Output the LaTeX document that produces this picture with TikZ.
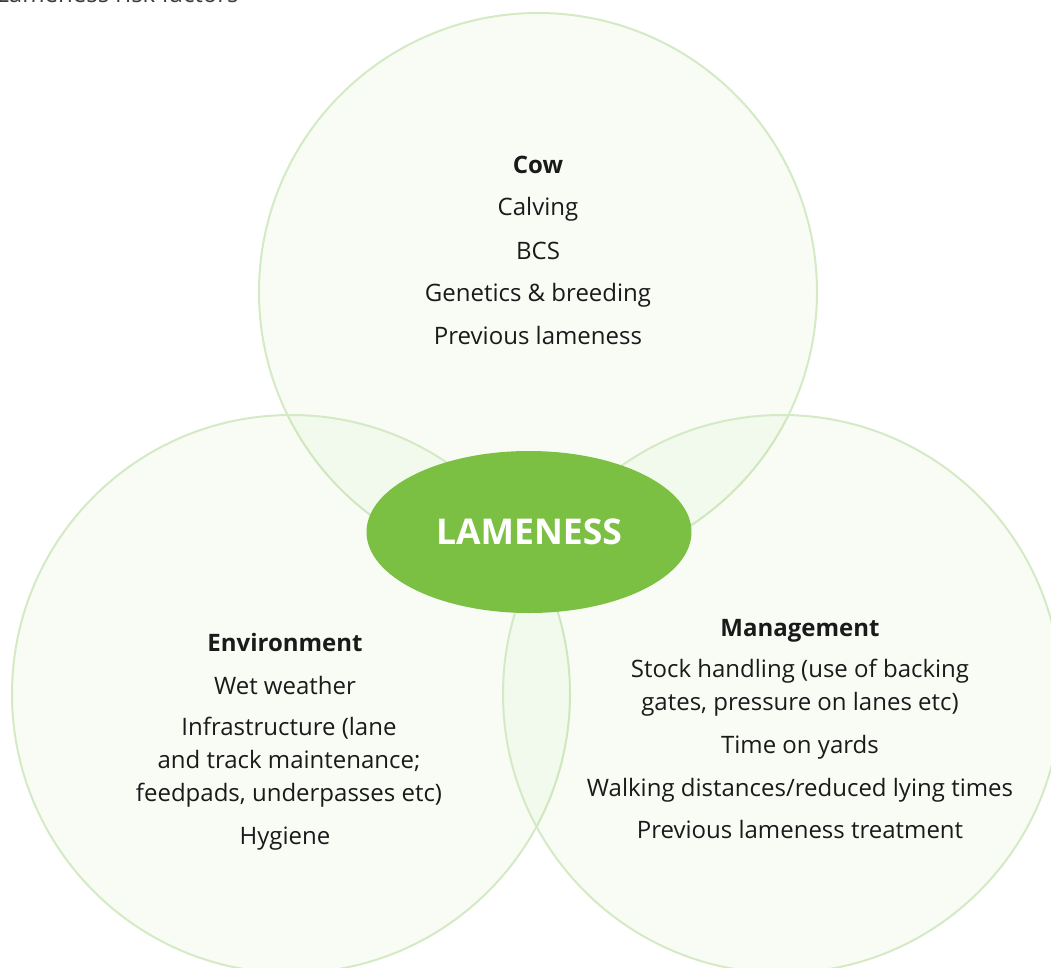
\documentclass[tikz,border=0pt]{standalone}
\usepackage{fontspec}
\setmainfont{Open Sans}
\usetikzlibrary{positioning,shapes.geometric}
\definecolor{lamegreen}{RGB}{123,192,67}
\definecolor{ringgreen}{RGB}{212,234,196}
\definecolor{inktext}{RGB}{26,26,26}

\tikzset{
  factor/.style={draw=ringgreen, line width=2pt, fill=lamegreen, fill opacity=0.05},
  head/.style={font=\fontsize{24}{26}\selectfont\bfseries, text=inktext, text height=17pt, text depth=5pt},
  item/.style={font=\fontsize{24}{33}\selectfont, text=inktext, text height=17pt, text depth=5pt},
  block/.style={font=\fontsize{24}{33}\selectfont, text=inktext, align=center},
}

\begin{document}
\begin{tikzpicture}[x=1pt,y=-1pt]
\useasboundingbox (0,0) rectangle (1051,968);
% the three factor circles
\filldraw[factor] (538,292) circle [radius=279];
\filldraw[factor] (291,694) circle [radius=279];
\filldraw[factor] (782,694) circle [radius=279];
\node [anchor=base west, font=\fontsize{24}{26}\selectfont, text=inktext!85] (title) at (-7,3) {Lameness risk factors};
% centre
\node [ellipse, fill=lamegreen, minimum width=325pt, minimum height=162pt, text=white, font=\fontsize{35.5}{40}\selectfont\bfseries] (core) at (529,532) {LAMENESS};
% cow
\node [head] (cow) at (538,168) {Cow};
\node [item] (calving) at (538,210) {Calving};
\node [item] (bcs) at (538,253) {BCS};
\node [item] (genetics) at (538,295) {Genetics \& breeding};
\node [item] (prevlame) at (538,338) {Previous lameness};
% environment
\node [head] (env) at (285,645) {Environment};
\node [item] (wet) at (285,688) {Wet weather};
\node [block] (infra) at (289,762) {Infrastructure (lane\\and track maintenance;\\feedpads, underpasses etc)};
\node [item] (hygiene) at (285,838) {Hygiene};
% management
\node [head] (mgmt) at (800,630) {Management};
\node [block] (stock) at (800,688) {Stock handling (use of backing\\gates, pressure on lanes etc)};
\node [item] (yards) at (800,747) {Time on yards};
\node [item] (walking) at (800,790) {Walking distances/reduced lying times};
\node [item] (prevtreat) at (800,832) {Previous lameness treatment};
\end{tikzpicture}
\end{document}
